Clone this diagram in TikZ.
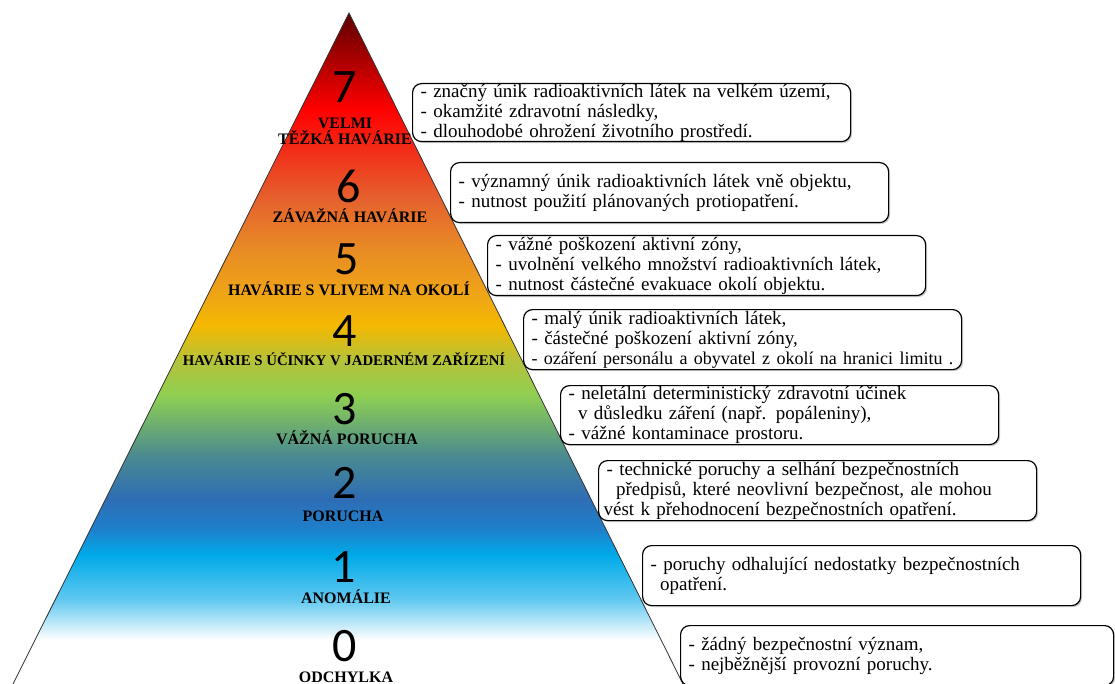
\documentclass[tikz,border=0pt]{standalone}
\usepackage{fontspec}
\setmainfont{Liberation Serif}
\newfontfamily\numfont{Carlito}
\usetikzlibrary{shadows}
\definecolor{pA}{HTML}{5A0000}
\definecolor{pB}{HTML}{8A0000}
\definecolor{pC}{HTML}{FF0000}
\definecolor{pD}{HTML}{F22D18}
\definecolor{pE}{HTML}{E5622E}
\definecolor{pF}{HTML}{E88C25}
\definecolor{pG}{HTML}{F0A814}
\definecolor{pH}{HTML}{F5B800}
\definecolor{pI}{HTML}{B5C23A}
\definecolor{pJ}{HTML}{8FCF52}
\definecolor{pK}{HTML}{4A8A90}
\definecolor{pL}{HTML}{2E6DB4}
\definecolor{pM}{HTML}{1E80CC}
\definecolor{pN}{HTML}{00AAE8}
\definecolor{pO}{HTML}{60C8F0}
\pgfdeclareverticalshading{pyr}{100bp}{color(0bp)=(white); color(25bp)=(white); color(28.3bp)=(white); color(31.3bp)=(pO); color(34.6bp)=(pN); color(36.5bp)=(pM); color(38.8bp)=(pL); color(42bp)=(pK); color(46.5bp)=(pJ); color(49.1bp)=(pI); color(51.75bp)=(pH); color(53.6bp)=(pG); color(57.3bp)=(pF); color(61.1bp)=(pE); color(64.8bp)=(pD); color(67.8bp)=(pC); color(73bp)=(pB); color(75bp)=(pA); color(100bp)=(pA)}
\begin{document}
\begin{tikzpicture}[x=1pt,y=-1pt,
  infobox/.style={draw=black, line width=1.2pt, rounded corners=9pt, fill=white,
    drop shadow={shadow xshift=1.5pt, shadow yshift=-1.5pt, opacity=0.35, fill=black!60},
    anchor=north west, inner xsep=8pt, inner ysep=0pt, align=left, text width=422pt,
    minimum height=60pt, font=\fontsize{19}{20}\selectfont},
  levelnum/.style={font=\numfont\fontsize{48}{48}\selectfont, inner sep=0pt},
  levellab/.style={font=\bfseries\fontsize{16}{16}\selectfont, inner sep=0pt, align=center, anchor=base}]
\useasboundingbox (0,0) rectangle (1115,684);
\coordinate (bl) at (13,684);
\coordinate (apex) at (349,13);
\coordinate (br) at (683,684);
\shade[shading=pyr] (bl) -- (apex) -- (br) -- cycle;
\draw[line width=0.8pt, black!80] (bl) -- (apex) -- (br);

\node[levelnum] (n7) at (345,87) {7};
\node[levellab, anchor=center] (l7) at (345,131) {VELMI\\TĚŽKÁ HAVÁRIE};
\node[levelnum] (n6) at (349,186) {6};
\node[levellab] (l6) at (350,223) {ZÁVAŽNÁ HAVÁRIE};
\node[levelnum] (n5) at (347,259) {5};
\node[levellab] (l5) at (349,295) {HAVÁRIE S VLIVEM NA OKOLÍ};
\node[levelnum] (n4) at (345,331) {4};
\node[levellab, font=\bfseries\fontsize{14.8}{16}\selectfont] (l4) at (344,365) {HAVÁRIE S ÚČINKY V JADERNÉM ZAŘÍZENÍ};
\node[levelnum] (n3) at (345,409) {3};
\node[levellab] (l3) at (347,444) {VÁŽNÁ PORUCHA};
\node[levelnum] (n2) at (345,483) {2};
\node[levellab] (l2) at (343,521) {PORUCHA};
\node[levelnum] (n1) at (344,567) {1};
\node[levellab] (l1) at (346,603) {ANOMÁLIE};
\node[levelnum] (n0) at (345,646) {0};
\node[levellab] (l0) at (346,682) {ODCHYLKA};

\node[infobox, minimum height=58pt] (b7) at (412,83) {- značný únik radioaktivních látek na velkém území,\\- okamžité zdravotní následky,\\- dlouhodobé ohrožení životního prostředí.};
\node[infobox] (b6) at (450,162) {- významný únik radioaktivních látek vně objektu,\\- nutnost použití plánovaných protiopatření.};
\node[infobox] (b5) at (487,235) {- vážné poškození aktivní zóny,\\- uvolnění velkého množství radioaktivních látek,\\- nutnost částečné evakuace okolí objektu.};
\node[infobox] (b4) at (523,309) {- malý únik radioaktivních látek,\\- částečné poškození aktivní zóny,\\\mbox{\fontsize{18}{20}\selectfont - ozáření personálu a obyvatel z okolí na hranici limitu .}};
\node[infobox, minimum height=59pt] (b3) at (560,385) {- neletální deterministický zdravotní účinek\\\hspace*{0.5em}v důsledku záření (např. popáleniny),\\- vážné kontaminace prostoru.};
\node[infobox] (b2) at (598,460) {- technické poruchy a selhání bezpečnostních\\\hspace*{0.5em}předpisů, které neovlivní bezpečnost, ale mohou\\\hspace*{-3pt}vést k přehodnocení bezpečnostních opatření.};
\node[infobox] (b1) at (642,545) {- poruchy odhalující nedostatky bezpečnostních\\\hspace*{0.5em}opatření.};
\node[infobox, text width=417pt] (b0) at (680,625) {- žádný bezpečnostní význam,\\- nejběžnější provozní poruchy.};
\end{tikzpicture}
\end{document}
